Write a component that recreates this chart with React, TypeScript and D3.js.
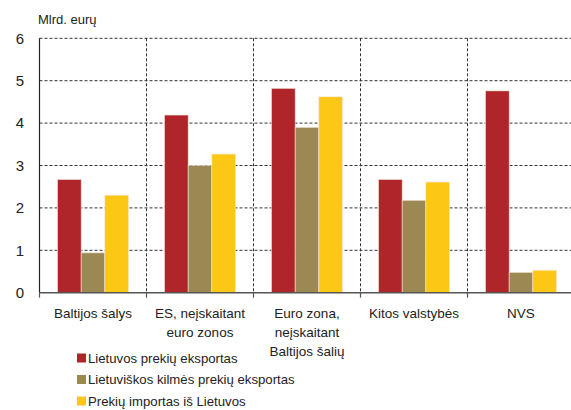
import React, { useEffect, useRef } from 'react'
import * as d3 from 'd3'

const categories = [
  ['Baltijos šalys'],
  ['ES, neįskaitant', 'euro zonos'],
  ['Euro zona,', 'neįskaitant', 'Baltijos šalių'],
  ['Kitos valstybės'],
  ['NVS'],
]
const seriesNames = [
  'Lietuvos prekių eksportas',
  'Lietuviškos kilmės prekių eksportas',
  'Prekių importas iš Lietuvos',
]
const exportTotal = [2.67, 4.19, 4.82, 2.67, 4.76]
const exportOrigin = [0.94, 3.0, 3.9, 2.18, 0.48]
const importFromLt = [2.3, 3.27, 4.62, 2.61, 0.53]
const yTicks = [0, 1, 2, 3, 4, 5, 6]
const colors = ['#AF252A', '#9C8853', '#FCC715']

const W = 571
const H = 410

const App = () => {
  const ref = useRef<SVGSVGElement>(null)

  useEffect(() => {
    const svg = d3.select(ref.current)
    svg.selectAll('*').remove()
    const font = '"Liberation Sans", Arial, sans-serif'
    const left = 39.5, right = 574.5, top = 38.3, bottom = 292.7

    const x = d3.scaleBand().domain(d3.range(categories.length).map(String)).range([left, right])
    const inner = d3.scaleBand().domain(['0', '1', '2']).range([0, x.bandwidth()]).paddingOuter(0.76).paddingInner(0)
    const y = d3.scaleLinear().domain([0, 6]).range([bottom, top])
    const series = [exportTotal, exportOrigin, importFromLt]

    // grid
    svg.append('g').selectAll('line').data(yTicks.filter(d => d > 0)).join('line')
      .attr('x1', left).attr('x2', right).attr('y1', d => y(d)).attr('y2', d => y(d))
      .attr('stroke', '#333').attr('stroke-width', 1).attr('stroke-dasharray', '3,2')
    svg.append('g').selectAll('line').data(d3.range(1, categories.length)).join('line')
      .attr('x1', i => left + i * x.step()).attr('x2', i => left + i * x.step())
      .attr('y1', top).attr('y2', bottom)
      .attr('stroke', '#333').attr('stroke-width', 1).attr('stroke-dasharray', '3,2')

    // bars
    series.forEach((vals, s) => {
      svg.append('g').selectAll('rect').data(vals).join('rect')
        .attr('x', (_, i) => (x(String(i)) as number) + (inner(String(s)) as number))
        .attr('y', d => y(d))
        .attr('width', inner.bandwidth())
        .attr('height', d => bottom - y(d))
        .attr('fill', colors[s])
        .attr('stroke', '#f3e6d8').attr('stroke-width', 0.6)
    })

    // axes
    svg.append('line').attr('x1', left).attr('x2', left).attr('y1', top).attr('y2', bottom)
      .attr('stroke', '#222').attr('stroke-width', 1.2)
    svg.append('line').attr('x1', left).attr('x2', right).attr('y1', bottom).attr('y2', bottom)
      .attr('stroke', '#555').attr('stroke-width', 1.6)
    svg.append('g').selectAll('line').data(d3.range(0, categories.length + 1)).join('line')
      .attr('x1', i => left + i * x.step()).attr('x2', i => left + i * x.step())
      .attr('y1', bottom).attr('y2', bottom + 5)
      .attr('stroke', '#555').attr('stroke-width', 1.2)

    svg.append('g').selectAll('text').data(yTicks).join('text')
      .attr('x', 24).attr('y', d => y(d)).attr('dy', '0.35em')
      .attr('text-anchor', 'end').attr('font-family', font).attr('font-size', 15).attr('fill', '#222')
      .text(d => d)

    svg.append('text').attr('x', 38).attr('y', 24).attr('font-family', font).attr('font-size', 13)
      .attr('fill', '#222').text('Mlrd. eurų')

    const cat = svg.append('g').selectAll('text').data(categories).join('text')
      .attr('x', (_, i) => (x(String(i)) as number) + x.bandwidth() / 2)
      .attr('y', 318).attr('text-anchor', 'middle')
      .attr('font-family', font).attr('font-size', 13.5).attr('fill', '#222')
    cat.selectAll('tspan').data(d => d).join('tspan')
      .attr('x', function () { return (this.parentNode as SVGTextElement).getAttribute('x') })
      .attr('dy', (_, j) => (j === 0 ? 0 : 19)).text(d => d)

    // legend
    const lg = svg.append('g').selectAll('g').data(seriesNames).join('g')
      .attr('transform', (_, i) => `translate(77,${358 + i * 21.5})`)
    lg.append('rect').attr('x', 0).attr('y', -4.5).attr('width', 9).attr('height', 9)
      .attr('fill', (_, i) => colors[i])
    lg.append('text').attr('x', 11).attr('y', 0).attr('dy', '0.35em')
      .attr('font-family', font).attr('font-size', 13.2).attr('fill', '#222').text(d => d)
  }, [])

  return (
    <svg ref={ref} width={W} height={H}
      style={{ position: 'absolute', left: 0, top: 0, background: '#fff', display: 'block' }} />
  )
}

export default App
